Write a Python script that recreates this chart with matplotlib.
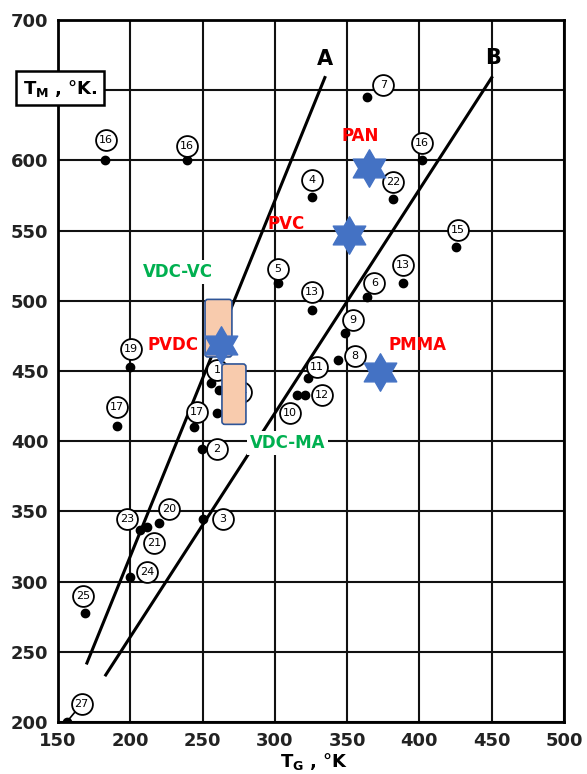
import numpy as np
import matplotlib.pyplot as plt
from matplotlib.path import Path
from matplotlib.patches import FancyBboxPatch
from matplotlib.transforms import offset_copy

# polymer points: Tg, Tm (K) and circled reference number
tg = [182.5, 239, 364, 402, 326, 382, 425, 302, 325.6, 388.6, 364, 348.5, 343.6,
      323, 321, 315, 200, 191, 244, 249.6, 255.8, 261.4, 260, 206.7, 211.5, 220,
      250, 199.8, 168.7, 156]
tm = [600, 600, 645, 600, 574, 572.5, 538, 513, 493.5, 513, 502.7, 477, 458,
      445, 433, 433, 453, 411, 410, 394.5, 441.5, 436.5, 420, 336.7, 339, 341.7,
      344.6, 303, 277.6, 200]
nums = ['16', '16', '7', '16', '4', '22', '15', '5', '13', '13', '6', '9', '8',
        '11', '12', '10', '19', '17', '17', '2', '1', '14', '', '23', '21', '20',
        '3', '24', '25', '27']
# where each circled number sits relative to its dot (pixels)
offs = [(1, 20), (0, 14), (16, 12), (0, 17), (0, 17), (0, 17), (2, 17), (0, 14),
        (0, 18), (0, 18), (7, 14), (8, 13), (17, 4), (9, 11), (17, 0), (-7, -18),
        (1, 18), (0, 19), (3, 15), (15, 0), (6, 13), (22, -2), (0, 0), (-13, 11),
        (7, -16), (10, 14), (20, 0), (17, 5), (-2, 17), (15, 18)]

# boundary lines A and B
line_a_x = [170, 334.6]
line_a_y = [242, 659]
line_b_x = [183, 450]
line_b_y = [233.5, 659]

# highlighted polymers
star_names = ['PAN', 'PVC', 'PVDC', 'PMMA']
star_tg = [365, 351, 262.7, 372.7]
star_tm = [594.6, 547, 468.5, 449]
star_text_xy = [(358.9, 617.4), (308, 555), (229.5, 468.5), (399, 468.5)]

# copolymer ranges (tg_lo, tg_hi, tm_lo, tm_hi)
copolymers = ['VDC-VC', 'VDC-MA']
co_ranges = [(251.7, 270.3, 460, 501), (263.4, 280, 412, 455)]
co_text_xy = [(233, 520.5), (309, 398.7)]

W, H = 587, 774
fig = plt.figure(figsize=(W / 100, H / 100), dpi=100)
ax = fig.add_axes([58 / W, 1 - 722 / H, 506 / W, 702 / H])
ax.set_xlim(150, 500)
ax.set_ylim(200, 700)
ax.set_xticks(range(150, 501, 50))
yt = list(range(200, 701, 50))
ax.set_yticks(yt)
ax.set_yticklabels(['' if v == 650 else str(v) for v in yt])
ax.grid(True, color='#111111', lw=1.5)
ax.set_axisbelow(True)
for s in ax.spines.values():
    s.set_linewidth(2)
ax.tick_params(length=0, pad=7, labelsize=13)
for lab in ax.get_xticklabels() + ax.get_yticklabels():
    lab.set_fontweight('bold')
    lab.set_color('#222222')

ax.plot(line_a_x, line_a_y, color='black', lw=2.2, zorder=3)
ax.plot(line_b_x, line_b_y, color='black', lw=2.2, zorder=3)
ax.text(line_a_x[1], 672, 'A', fontsize=15, fontweight='bold', ha='center', va='center')
ax.text(line_b_x[1] + 1, 673, 'B', fontsize=15, fontweight='bold', ha='center', va='center')

ax.plot(tg, tm, 'o', color='black', ms=6, zorder=4)
for x, y, n, (dx, dy) in zip(tg, tm, nums, offs):
    if not n:
        continue
    tr = offset_copy(ax.transData, fig=fig, x=dx, y=dy, units='dots')
    if n == '27':
        ax.annotate('', xy=(x, y), xytext=(dx, dy), textcoords='offset pixels',
                    arrowprops=dict(arrowstyle='-', color='black', lw=1.2), zorder=4)
    ax.plot(x, y, 'o', ms=15, mfc='white', mec='black', mew=1.3, transform=tr, zorder=5)
    ax.text(x, y, n, fontsize=8, ha='center', va='center', transform=tr, zorder=6)

# copolymer bars
for (x0, x1, y0, y1), name, (tx, ty) in zip(co_ranges, copolymers, co_text_xy):
    ax.add_patch(FancyBboxPatch((x0, y0), x1 - x0, y1 - y0,
                                boxstyle='round,pad=0,rounding_size=2',
                                fc='#F8CBAD', ec='#2F5597', lw=1.2, zorder=7))
    ax.text(tx, ty, name, color='#00B050', fontsize=12, fontweight='bold',
            ha='center', va='center', zorder=7,
            bbox=dict(fc='white', ec='none', pad=2))

# six-pointed star marker
ang = np.deg2rad(90 + 30 * np.arange(12))
rad = np.where(np.arange(12) % 2 == 0, 1.0, 1 / np.sqrt(3))
verts = np.column_stack([rad * np.cos(ang), rad * np.sin(ang)])
verts = np.vstack([verts, verts[:1]])
hexagram = Path(verts, closed=True)

ax.plot(star_tg, star_tm, linestyle='none', marker=hexagram, ms=27,
        color='#4472C4', mec='#4472C4', zorder=8)
for name, (tx, ty) in zip(star_names, star_text_xy):
    ax.text(tx, ty, name, color='#FF0000', fontsize=12, fontweight='bold',
            ha='center', va='center', zorder=8)

ax.text(0.004, 0.903, r'T$_{\mathbf{M}}$ , °K.', transform=ax.transAxes,
        fontsize=13, fontweight='bold', ha='center', va='center', zorder=9,
        clip_on=False, bbox=dict(boxstyle='square,pad=0.35', fc='white', ec='black', lw=1.8))
fig.text(314 / W, 1 - 762 / H, r'T$_{\mathbf{G}}$ , °K', fontsize=13, fontweight='bold',
         ha='center', va='center')

fig.savefig('out.png', dpi=100)
